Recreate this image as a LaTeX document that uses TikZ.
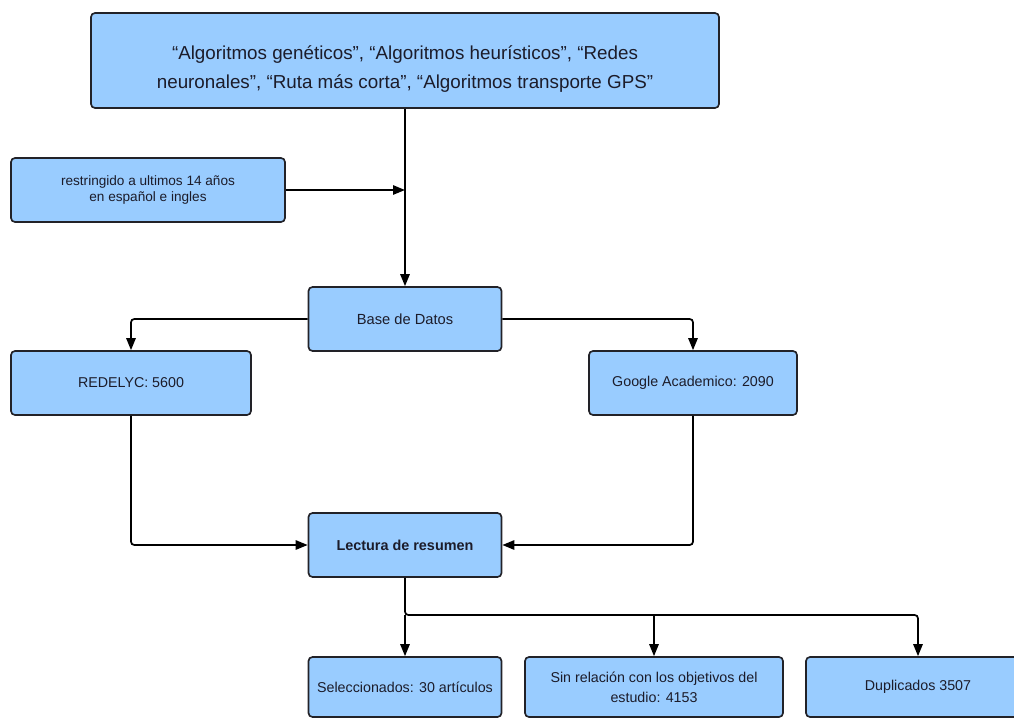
\documentclass[tikz,border=0pt]{standalone}
\usepackage{fontspec}
\setmainfont{Liberation Sans}
\usetikzlibrary{arrows.meta}
\definecolor{boxfill}{RGB}{153,204,255}
\definecolor{boxline}{RGB}{34,34,40}
\definecolor{txtc}{RGB}{28,28,42}
\begin{document}
\begin{tikzpicture}[x=0.75pt,y=-0.75pt,
  box/.style={draw=boxline, fill=boxfill, line width=1.25pt, rounded corners=3pt,
              inner sep=0pt, text=txtc, align=center, minimum height=48pt,
              font=\fontsize{10.7}{15}\selectfont},
  conn/.style={draw=black, line width=1.3pt, rounded corners=2.5pt},
  arr/.style={conn, -{Triangle[length=9pt,width=7pt]}},
  lbl/.style={text=txtc, align=center, inner sep=0pt}]
\useasboundingbox (0,0) rectangle (1014,718);
\fill[white] (0,0) rectangle (1014,718);
\clip (0,0) rectangle (1014,718);

% boxes
\node[box, minimum width=471pt, minimum height=71.25pt] (top) at (405,60.5) {};
\node[lbl, font=\fontsize{14.1}{21.75}\selectfont] (toptxt) at (405,69.5)
  {“Algoritmos genéticos”, “Algoritmos heurísticos”, “Redes\\neuronales”, “Ruta más corta”, “Algoritmos transporte GPS”};
\node[box, minimum width=205.5pt, font=\fontsize{10.2}{11.75}\selectfont] (restr) at (148,190)
  {restringido a ultimos 14 años\\en español e ingles};
\node[box, minimum width=144.75pt, font=\fontsize{11}{15}\selectfont] (base) at (405,319) {Base de Datos};
\node[box, minimum width=180pt] (redelyc) at (131,383) {REDELYC: 5600};
\node[box, minimum width=156pt] (google) at (693,383) {Google Academico: 2090};
\node[box, minimum width=144.75pt, font=\fontsize{10.8}{15}\bfseries] (lectura) at (405,545) {Lectura de resumen};
\node[box, minimum width=144.75pt, minimum height=45pt] (sel) at (405,687) {Seleccionados: 30 artículos};
\node[box, minimum width=193.5pt, minimum height=45pt] (sin) at (654,687) {Sin relación con los objetivos del\\estudio: 4153};
\node[box, minimum width=168pt, minimum height=45pt] (dup) at (918,687) {Duplicados 3507};

% connectors
\coordinate (split) at (405,615);
\draw[arr] (top.south) -- (base.north);
\draw[arr] (restr.east) -- (restr.east -| base.north);
\draw[arr] (base.west) -| (redelyc.north);
\draw[arr] (base.east) -| (google.north);
\draw[arr] (redelyc.south) |- (lectura.west);
\draw[arr] (google.south) |- (lectura.east);
\draw[arr] (lectura.south) -- (split) -| (dup.north);
\draw[arr] (split) -- (sel.north);
\draw[arr] (split -| sin.north) -- (sin.north);
\end{tikzpicture}
\end{document}
